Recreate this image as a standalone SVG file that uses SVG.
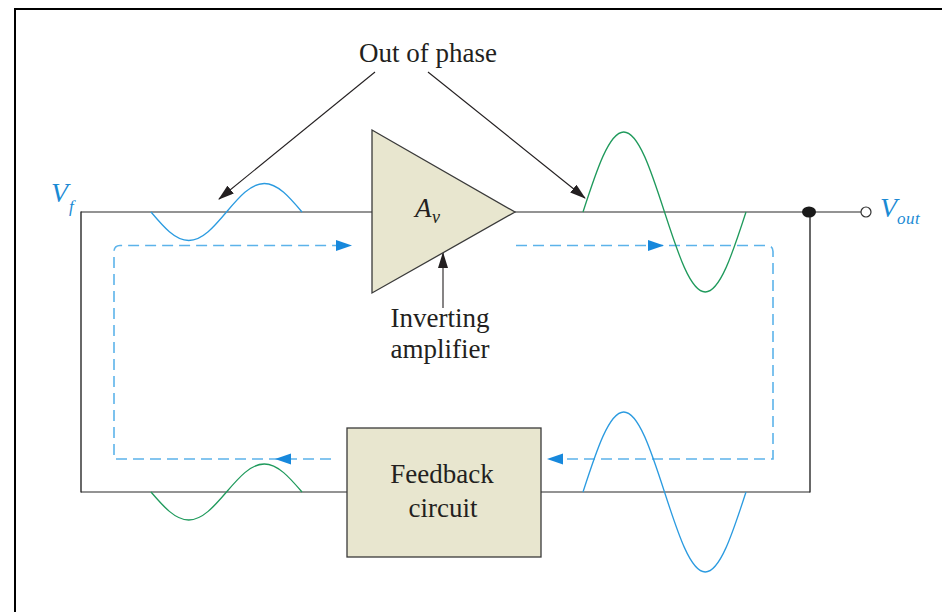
<svg xmlns="http://www.w3.org/2000/svg" width="942" height="612" viewBox="0 0 942 612">
<style>
.frame{fill:none;stroke:#000;stroke-width:2}
.wireh{fill:none;stroke:#707070;stroke-width:1.5}
.wirev{fill:none;stroke:#2a2a2a;stroke-width:1.4}
.blk{fill:#e8e6cf;stroke:#3a3a3a;stroke-width:1.3}
.lbl{font-family:"Liberation Serif","Times New Roman",serif;font-size:27px;fill:#231f20;text-anchor:middle}
.sym{font-family:"Liberation Serif","Times New Roman",serif;font-style:italic;fill:#1a8ad4}
.symk{font-family:"Liberation Serif","Times New Roman",serif;font-style:italic;fill:#231f20}
.wblue{fill:none;stroke:#2b9be0;stroke-width:1.3}
.wgreen{fill:none;stroke:#1f9a5c;stroke-width:1.3}
.dash{fill:none;stroke:#5cb3ea;stroke-width:1.6;stroke-dasharray:11 6}
.ptr{fill:none;stroke:#231f20;stroke-width:1.1}
.bah{fill:#1788dc}
</style>
<defs>
<marker id="arr" viewBox="0 0 16 10" refX="15" refY="5" markerWidth="16" markerHeight="10" markerUnits="userSpaceOnUse" orient="auto">
<path d="M0,0 L16,5 L0,10 Z" fill="#231f20"/>
</marker>
<path id="bhead" d="M0,0 L-16,-5.5 L-16,5.5 Z"/>
</defs>
<!-- frame -->
<path class="frame" d="M15,612 L15,9 L942,9"/>
<g id="connectors">
<path class="wireh" d="M81,212 L372,212 M515,212 L861,212"/>
<path class="wireh" d="M81,492 L347,492 M541,492 L810,492"/>
<path class="wirev" d="M81,211.5 L81,492.5 M810,212 L810,492.5"/>
<!-- dashed feedback loop path -->
<path class="dash" d="M331,459 L114,459 L114,252 Q114,245.5 120,245.5 L338,245.5"/>
<path class="dash" d="M516,245.5 L767,245.5 Q773,245.5 773,251.5 L773,459 L562,459"/>
<use href="#bhead" class="bah" transform="translate(352,245.5)"/>
<use href="#bhead" class="bah" transform="translate(664,245.5)"/>
<use href="#bhead" class="bah" transform="translate(547,459) rotate(180)"/>
<use href="#bhead" class="bah" transform="translate(275,459) rotate(180)"/>
<!-- pointer arrows -->
<line class="ptr" x1="375" y1="72" x2="219" y2="199" marker-end="url(#arr)"/>
<line class="ptr" x1="428" y1="72" x2="585" y2="198" marker-end="url(#arr)"/>
<line class="ptr" x1="443" y1="308" x2="443" y2="253" marker-end="url(#arr)"/>
</g>
<!-- waveforms -->
<g id="waves">
<path class="wblue" d="M151,212 C163.31,226.6 175.09,240.5 188.75,240.5 S214.19,226.6 226.5,212 S250.59,183.5 264.25,183.5 S289.69,197.4 302,212"/>
<path class="wgreen" d="M583,212 C596.29,171 609,132 623.75,132 S651.21,171 664.5,212 S690.5,292 705.25,292 S732.71,253 746,212"/>
<path class="wgreen" d="M151,492 C163.31,506.34 175.09,520 188.75,520 S214.19,506.34 226.5,492 S250.59,464 264.25,464 S289.69,477.66 302,492"/>
<path class="wblue" d="M583,492 C596.29,451 609,412 623.75,412 S651.21,451 664.5,492 S690.5,572 705.25,572 S732.71,533 746,492"/>
</g>
<g id="amplifier">
<polygon class="blk" points="372,130 515,212 372,293"/>
<text class="symk" x="415" y="217" font-size="27">A</text>
<text class="symk" x="432" y="223" font-size="18">v</text>
</g>
<g id="feedback">
<rect class="blk" x="347" y="428" width="194" height="129"/>
<text class="lbl" x="442" y="483" font-size="26">Feedback</text>
<text class="lbl" x="443" y="517" font-size="26">circuit</text>
</g>
<g id="junction">
<ellipse cx="809" cy="212" rx="7" ry="5.5" fill="#1a1a1a"/>
</g>
<g id="vout">
<circle cx="866" cy="212" r="5" fill="#fff" stroke="#333" stroke-width="1.2"/>
<text class="sym" x="880" y="217" font-size="28">V</text>
<text class="sym" x="897" y="224" font-size="17" letter-spacing="0.5">out</text>
</g>
<g id="vf">
<text class="sym" x="51" y="202" font-size="28">V</text>
<text class="sym" x="69" y="212" font-size="17">f</text>
</g>
<g id="labels">
<text class="lbl" x="428" y="62">Out of phase</text>
<text class="lbl" x="440" y="327">Inverting</text>
<text class="lbl" x="440" y="358">amplifier</text>
</g>
</svg>
